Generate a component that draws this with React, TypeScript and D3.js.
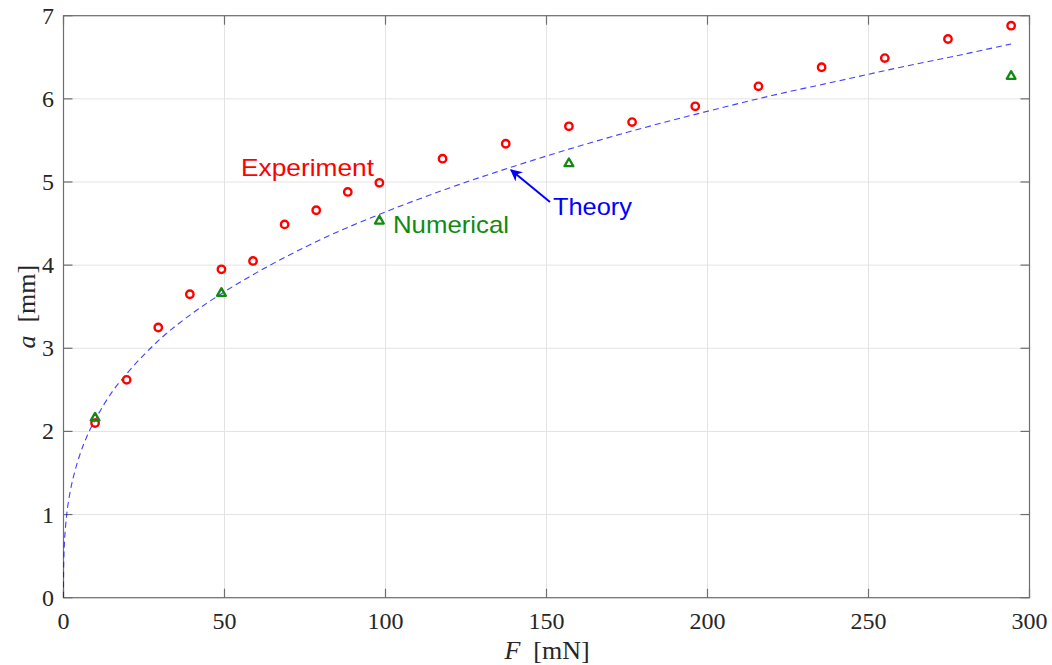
import React from "react";
import * as d3 from "d3";

const expF = [9.81, 19.62, 29.43, 39.24, 49.05, 58.86, 68.67, 78.48, 88.29, 98.1, 117.72, 137.34, 156.96, 176.58, 196.2, 215.82, 235.44, 255.06, 274.68, 294.3];
const expA = [2.10, 2.62, 3.25, 3.65, 3.95, 4.05, 4.49, 4.66, 4.88, 4.99, 5.28, 5.46, 5.67, 5.72, 5.91, 6.15, 6.38, 6.49, 6.72, 6.88];

const numF = [9.81, 49.05, 98.1, 156.96, 294.3];
const numA = [2.17, 3.67, 4.54, 5.23, 6.28];

const theoryF = [0, 0.02, 0.1, 0.3, 0.6, 1, 2, 3, 5, 7.5, 10, 15, 20, 30, 40, 50, 60, 80, 100, 120, 140, 160, 180, 200, 220, 240, 260, 280, 294.3];
const theoryA = [0, 0.27, 0.46, 0.67, 0.84, 1.0, 1.26, 1.44, 1.71, 1.96, 2.15, 2.47, 2.71, 3.11, 3.42, 3.68, 3.91, 4.31, 4.64, 4.93, 5.19, 5.43, 5.65, 5.85, 6.04, 6.21, 6.38, 6.54, 6.66];

const xTicks = [0, 50, 100, 150, 200, 250, 300];
const yTicks = [0, 1, 2, 3, 4, 5, 6, 7];

const W = 1052, H = 665;
const L = 63.5, R = 1029.5, T = 15.7, B = 597.7;

export default function App() {
  const x = d3.scaleLinear().domain([0, 300]).range([L, R]);
  const y = d3.scaleLinear().domain([0, 7]).range([B, T]);
  const theoryPath = d3.line<number>()
    .x((_, i) => x(theoryF[i]))
    .y((d) => y(d))
    .curve(d3.curveMonotoneX)(theoryA);
  const axisColor = "#6e6e6e";
  const gridColor = "#e3e3e3";
  const tickLen = 9;
  const serif = "'Liberation Serif', 'Times New Roman', serif";
  const sans = "'Liberation Sans', Arial, sans-serif";
  const tri = (cx: number, cy: number) => {
    const s = 4.4;
    return `M${cx},${cy - s} L${cx + s},${cy + s * 0.75} L${cx - s},${cy + s * 0.75} Z`;
  };
  return (
    <svg width={W} height={H} style={{ position: "absolute", left: 0, top: 0, background: "#fff" }}>
      <rect x={0} y={0} width={W} height={H} fill="#fff" />
      {xTicks.map((t) => (
        <line key={"gx" + t} x1={x(t)} x2={x(t)} y1={T} y2={B} stroke={gridColor} strokeWidth={1} />
      ))}
      {yTicks.map((t) => (
        <line key={"gy" + t} x1={L} x2={R} y1={y(t)} y2={y(t)} stroke={gridColor} strokeWidth={1} />
      ))}
      <rect x={L} y={T} width={R - L} height={B - T} fill="none" stroke={axisColor} strokeWidth={1.2} />
      {xTicks.map((t) => (
        <g key={"tx" + t}>
          <line x1={x(t)} x2={x(t)} y1={B} y2={B - tickLen} stroke={axisColor} strokeWidth={1.2} />
          <line x1={x(t)} x2={x(t)} y1={T} y2={T + tickLen} stroke={axisColor} strokeWidth={1.2} />
          <text x={x(t)} y={629} textAnchor="middle" fontFamily={serif} fontSize={24} fill="#262626">{t}</text>
        </g>
      ))}
      {yTicks.map((t) => (
        <g key={"ty" + t}>
          <line x1={L} x2={L + tickLen} y1={y(t)} y2={y(t)} stroke={axisColor} strokeWidth={1.2} />
          <line x1={R} x2={R - tickLen} y1={y(t)} y2={y(t)} stroke={axisColor} strokeWidth={1.2} />
          <text x={54} y={y(t) + 8} textAnchor="end" fontFamily={serif} fontSize={24} fill="#262626">{t}</text>
        </g>
      ))}
      <text x={547} y={659} textAnchor="middle" fontFamily={serif} fontSize={26} fill="#262626">
        <tspan fontStyle="italic">F</tspan>{"\u00a0\u00a0[mN]"}
      </text>
      <text transform={`translate(35,${(T + B) / 2}) rotate(-90)`} textAnchor="middle" fontFamily={serif} fontSize={26} fill="#262626">
        <tspan fontStyle="italic">a</tspan>{"\u00a0\u00a0[mm]"}
      </text>
      <path d={theoryPath || ""} fill="none" stroke="#0000ff" strokeWidth={1.1} strokeDasharray="6,4" opacity={0.75} />
      {expF.map((f, i) => (
        <circle key={"e" + i} cx={x(f)} cy={y(expA[i])} r={3.7} fill="none" stroke="#ff0000" strokeWidth={2.4} />
      ))}
      {numF.map((f, i) => (
        <path key={"n" + i} d={tri(x(f), y(numA[i]))} fill="none" stroke="#128a12" strokeWidth={2.3} strokeLinejoin="round" />
      ))}
      <text x={241} y={176} fontFamily={sans} fontSize={24} fill="#ff0000" textLength={133} lengthAdjust="spacingAndGlyphs">Experiment</text>
      <text x={393} y={233} fontFamily={sans} fontSize={24} fill="#128a12" textLength={116} lengthAdjust="spacingAndGlyphs">Numerical</text>
      <text x={553} y={215} fontFamily={sans} fontSize={24} fill="#0000ff" textLength={79} lengthAdjust="spacingAndGlyphs">Theory</text>
      <defs>
        <marker id="ah" viewBox="0 0 10 10" refX={9} refY={5} markerWidth={6} markerHeight={6} orient="auto">
          <path d="M0,0 L10,5 L0,10 L3,5 Z" fill="#0000ff" />
        </marker>
      </defs>
      <line x1={550} y1={202} x2={511} y2={170} stroke="#0000ff" strokeWidth={2} markerEnd="url(#ah)" />
    </svg>
  );
}
